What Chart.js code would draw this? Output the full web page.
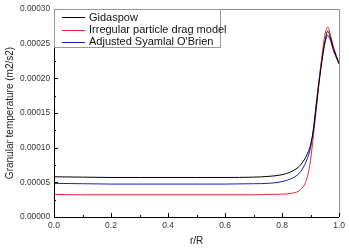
<!DOCTYPE html>
<html>
<head>
<meta charset="utf-8">
<script src="https://cdn.jsdelivr.net/npm/chart.js@4.4.0/dist/chart.umd.min.js"></script>
<style>
  html, body { margin: 0; padding: 0; background: #fff; }
  #wrap { width: 349px; height: 251px; }
</style>
</head>
<body>
<div id="wrap"><canvas id="myChart" width="349" height="251"></canvas></div>
<script>
const rR = [0, 0.1, 0.2, 0.3, 0.4, 0.5, 0.6, 0.7, 0.75, 0.8, 0.83, 0.86, 0.88, 0.89, 0.9, 0.91, 0.92, 0.93, 0.94, 0.95, 0.96, 0.97, 0.98, 0.99, 1.0]
const gidaspow = [5.8e-5, 5.75e-5, 5.7e-5, 5.7e-5, 5.7e-5, 5.7e-5, 5.7e-5, 5.75e-5, 5.85e-5, 6.1e-5, 6.5e-5, 7.3e-5, 8.4e-5, 9.2e-5, 10.4e-5, 12.5e-5, 16.0e-5, 19.5e-5, 22.5e-5, 25.2e-5, 26.8e-5, 25.8e-5, 24.3e-5, 23.2e-5, 22.1e-5]
const irregular = [3.25e-5, 3.2e-5, 3.2e-5, 3.2e-5, 3.2e-5, 3.2e-5, 3.2e-5, 3.2e-5, 3.25e-5, 3.3e-5, 3.4e-5, 3.8e-5, 4.8e-5, 6.0e-5, 8.2e-5, 11.8e-5, 15.5e-5, 19.5e-5, 23.3e-5, 26.2e-5, 27.4e-5, 26.2e-5, 24.6e-5, 23.3e-5, 22.2e-5]
const syamlal = [4.85e-5, 4.8e-5, 4.75e-5, 4.75e-5, 4.75e-5, 4.75e-5, 4.75e-5, 4.8e-5, 4.85e-5, 5.1e-5, 5.5e-5, 6.3e-5, 7.6e-5, 8.6e-5, 10.0e-5, 12.8e-5, 16.4e-5, 19.9e-5, 22.9e-5, 25.0e-5, 26.2e-5, 25.4e-5, 24.0e-5, 23.0e-5, 22.1e-5]

const seriesNames = ['Gidaspow', 'Irregular particle drag model', "Adjusted Syamlal O'Brien"]
const seriesColors = ['#000000', '#ec2630', '#1c1cd0']
const seriesValues = [gidaspow, irregular, syamlal]

const FONT = '"Liberation Sans", Arial, sans-serif'

let datasets = seriesValues.map((vals, i) => {
  return {
    label: seriesNames[i],
    data: vals.map((v, k) => ({ x: rR[k], y: v })),
    borderColor: seriesColors[i],
    borderWidth: 1,
    pointRadius: 0,
    fill: false,
    cubicInterpolationMode: 'monotone'
  }
})

// inward ticks, frame and legend box
const frame = {
  id: 'frame',
  afterDraw(chart) {
    const c = chart.ctx
    const a = chart.chartArea
    const xs = chart.scales.x
    const ys = chart.scales.y
    c.save()
    c.lineWidth = 1
    c.strokeStyle = '#888'
    c.beginPath()
    c.moveTo(a.left, a.top + 0.5)
    c.lineTo(a.right + 0.5, a.top + 0.5)
    c.lineTo(a.right + 0.5, a.bottom)
    c.stroke()
    c.strokeStyle = '#000'
    c.beginPath()
    c.moveTo(a.left + 0.5, a.top)
    c.lineTo(a.left + 0.5, a.bottom + 0.5)
    c.lineTo(a.right, a.bottom + 0.5)
    c.stroke()
    c.beginPath()
    for (let i = 0; i <= 10; i++) {
      const px = Math.round(xs.getPixelForValue(i / 10)) + 0.5
      c.moveTo(px, a.bottom)
      c.lineTo(px, a.bottom - (i % 2 === 0 ? 4 : 2))
    }
    for (let i = 0; i <= 12; i++) {
      const py = Math.round(ys.getPixelForValue(i * 0.000025)) + 0.5
      c.moveTo(a.left, py)
      c.lineTo(a.left + (i % 2 === 0 ? 4 : 2), py)
    }
    c.stroke()

    // legend
    const lx = a.left, ly = a.top, lw = 166, lh = 38
    c.fillStyle = '#fff'
    c.fillRect(lx + 1, ly + 1, lw, lh)
    c.strokeStyle = '#999'
    c.strokeRect(lx + 0.5, ly + 0.5, lw, lh)
    c.font = '11px ' + FONT
    c.textBaseline = 'middle'
    chart.data.datasets.forEach((ds, i) => {
      const yy = ly + 8.5 + i * 12.3
      c.strokeStyle = ds.borderColor
      c.beginPath()
      c.moveTo(lx + 8, Math.round(yy) + 0.5)
      c.lineTo(lx + 31, Math.round(yy) + 0.5)
      c.stroke()
      c.fillStyle = '#111'
      c.fillText(ds.label, lx + 35, yy)
    })
    c.restore()
  }
}

new Chart(document.getElementById('myChart'), {
  type: 'line',
  data: { datasets: datasets },
  options: {
    responsive: false,
    animation: false,
    layout: { padding: { left: 4, right: 8, top: 0, bottom: 4 } },
    plugins: { legend: { display: false }, tooltip: { enabled: false } },
    scales: {
      x: {
        type: 'linear',
        min: 0, max: 1,
        grid: { display: false, drawTicks: false },
        border: { display: false },
        ticks: {
          stepSize: 0.2,
          color: '#333',
          font: { family: FONT, size: 8.5 },
          maxRotation: 0,
          padding: 4,
          callback: v => v.toFixed(1)
        },
        title: { display: true, text: 'r/R', color: '#222', font: { family: FONT, size: 10 }, padding: { top: 2, bottom: 0 } },
        afterFit: s => { s.height = 30 }
      },
      y: {
        min: 0, max: 0.0003,
        grid: { display: false, drawTicks: false },
        border: { display: false },
        ticks: {
          stepSize: 0.00005,
          color: '#333',
          font: { family: FONT, size: 8.3 },
          padding: 4,
          callback: v => v.toFixed(5)
        },
        title: { display: true, text: 'Granular temperature (m2/s2)', color: '#222', font: { family: FONT, size: 10 }, padding: { top: 0, bottom: 2 } },
        afterFit: s => { s.width = 50 }
      }
    }
  },
  plugins: [frame]
})
</script>
</body>
</html>
